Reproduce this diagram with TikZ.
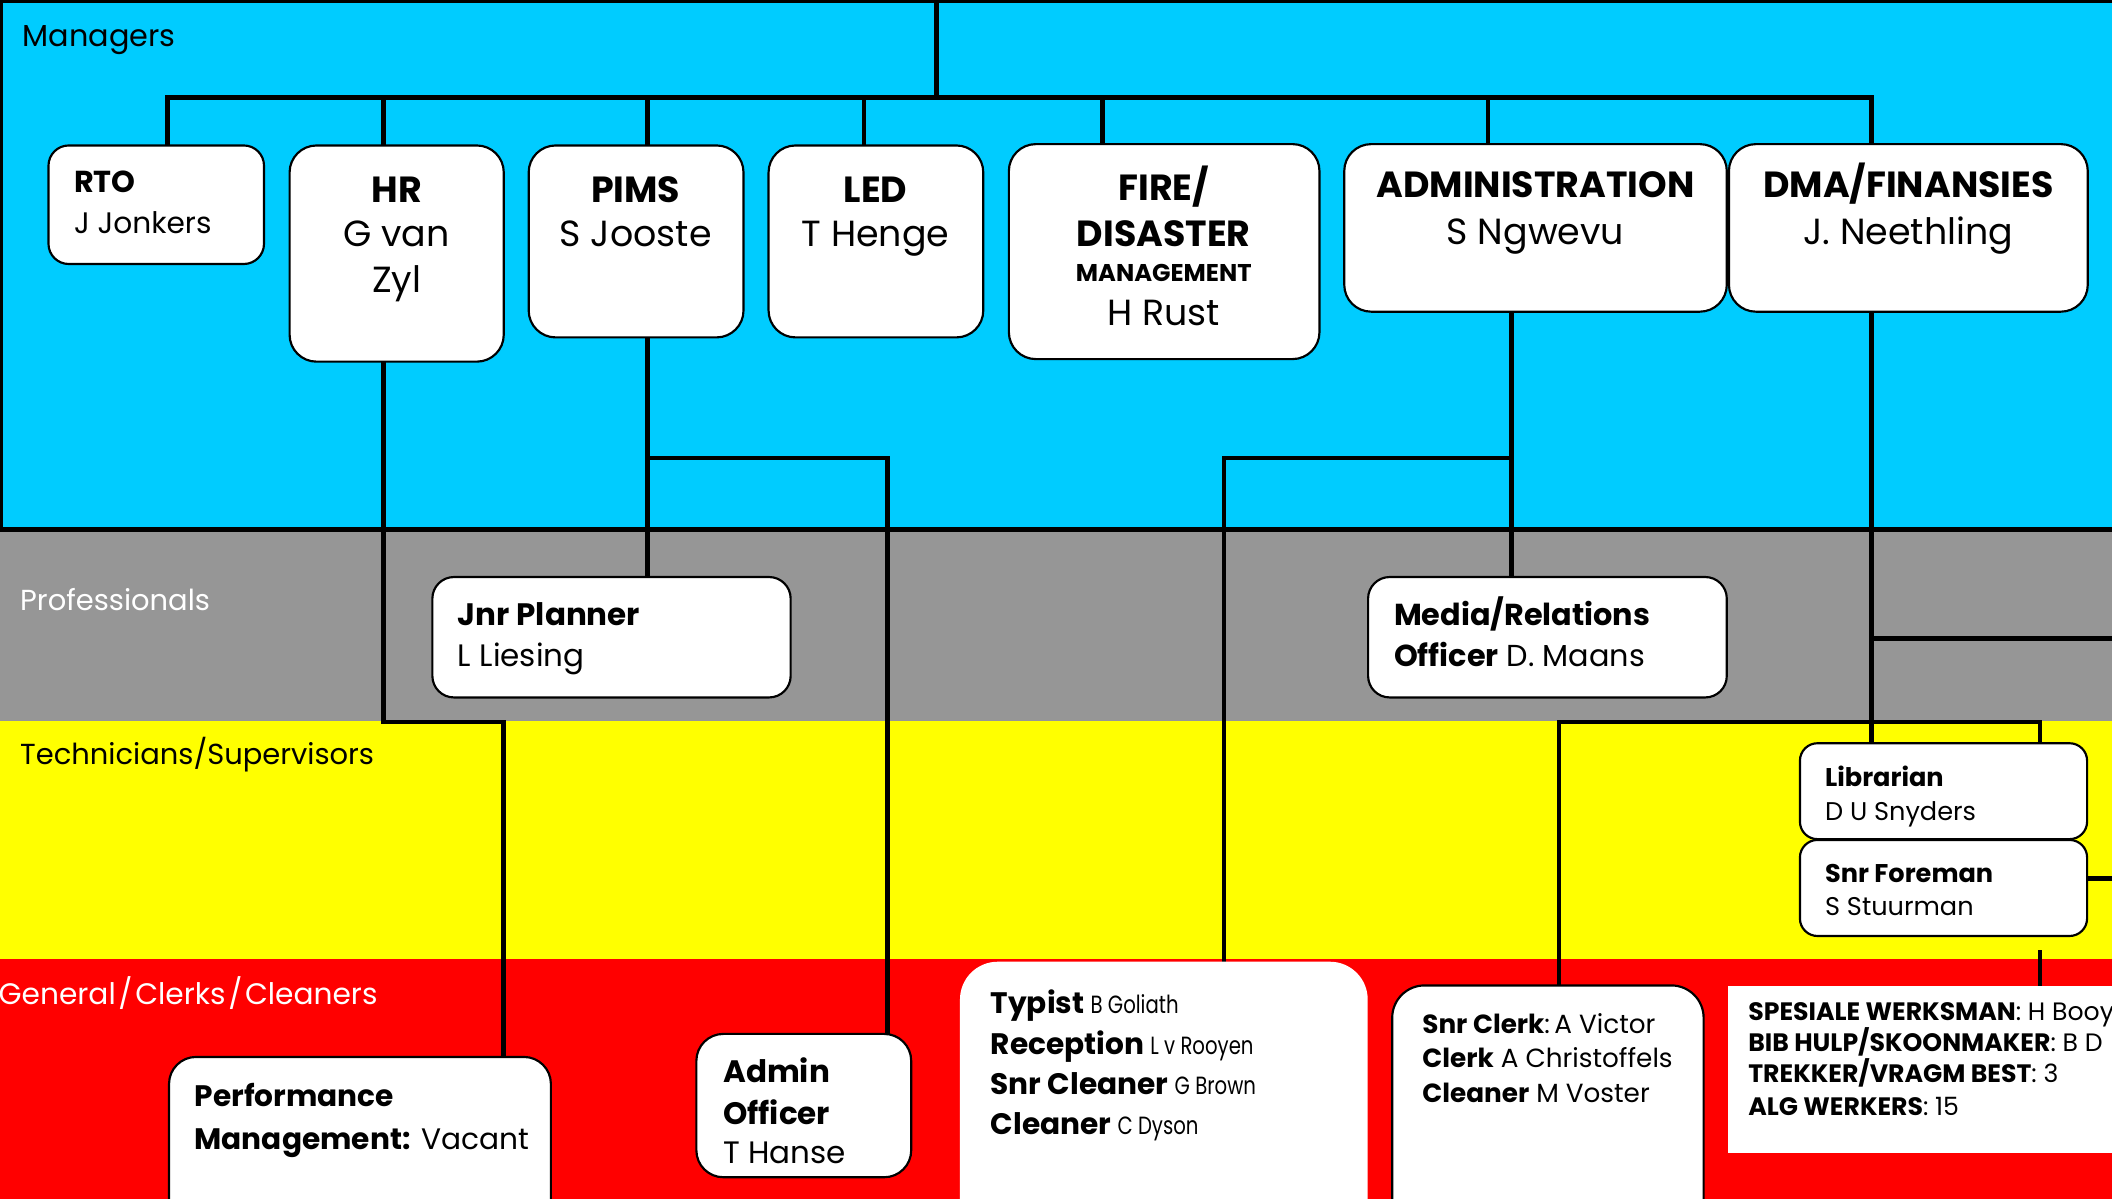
\documentclass[tikz,border=0pt]{standalone}
\usepackage{fontspec}
\setmainfont{Poppins}
\definecolor{mgrblue}{RGB}{0,204,255}
\definecolor{progray}{RGB}{150,150,150}
\definecolor{techyellow}{RGB}{255,255,0}
\definecolor{genred}{RGB}{255,0,0}
\newcommand{\fs}[1]{\fontsize{#1}{#1}\selectfont}
\newcommand{\narrowname}[1]{\scalebox{0.79}[1]{\normalfont\fs{18.5}#1}}
\newcommand{\sep}{\kern2pt/\kern2pt}
\pgfdeclarelayer{bands}
\pgfdeclarelayer{wires}
\pgfsetlayers{bands,wires,main}
\begin{document}
\begin{tikzpicture}[x=1pt,y=-1pt,
  wire/.style={line width=3.6pt},
  orgbox/.style={draw=black,line width=1.6pt,fill=white,rounded corners=20pt,
    rectangle,inner sep=0pt,outer sep=0pt,anchor=north west},
  plainbox/.style={fill=white,rectangle,inner sep=0pt,outer sep=0pt,anchor=north west},
  lt/.style={inner sep=0pt,outer sep=0pt,anchor=base west},
  ct/.style={inner sep=0pt,outer sep=0pt,anchor=base},
  bandlbl/.style={lt,font=\fs{21.5}},
  headtxt/.style={font=\fs{27}\bfseries},
  persontxt/.style={font=\fs{27}},
]
\useasboundingbox (0,0) rectangle (1568,890);
\clip (0,0) rectangle (1568,890);

% ---- staff level bands ----
\begin{pgfonlayer}{bands}
  \fill[mgrblue] (0,0) rectangle (1600,393);
  \fill[progray] (0,393) rectangle (1600,535);
  \fill[techyellow] (0,535) rectangle (1600,712.3);
  \fill[genred] (0,712.3) rectangle (1600,900);
  \draw[line width=4pt] (0,0) rectangle (1600,393);
\end{pgfonlayer}

\node[bandlbl,font=\fs{22.5}] (lmgr) at (17,34.6) {Managers};
\node[bandlbl,text=white] (lpro) at (15,453.6) {Professionals};
\node[bandlbl] (ltech) at (15,567.5) {Technicians/Supervisors};
\node[bandlbl,font=\fs{22},text=white] (lgen) at (-1,746) {General\sep Clerks\sep Cleaners};

% ---- managers ----
\node[orgbox,rounded corners=15pt,minimum width=160pt,minimum height=88pt] (rto) at (36,108) {};
\node[lt,font=\fs{22.5}\bfseries] (rto1) at (55,143) {RTO};
\node[lt,font=\fs{22}] (rto2) at (55,173) {J Jonkers};

\node[orgbox,minimum width=159pt,minimum height=160.5pt] (hr) at (215,108) {};
\node[ct,headtxt] (hr1) at (294.5,150) {HR};
\node[ct,persontxt] (hr2) at (294.5,183) {G van};
\node[ct,persontxt] (hr3) at (294.5,217) {Zyl};

\node[orgbox,minimum width=159.5pt,minimum height=142.5pt] (pims) at (392.5,108) {};
\node[ct,headtxt] (pims1) at (472,150) {PIMS};
\node[ct,persontxt] (pims2) at (472,183) {S Jooste};

\node[orgbox,minimum width=159.4pt,minimum height=142.5pt] (led) at (570.6,108) {};
\node[ct,headtxt] (led1) at (650,150) {LED};
\node[ct,persontxt] (led2) at (650,183) {T Henge};

\node[orgbox,minimum width=230.6pt,minimum height=159.6pt] (fire) at (749,107) {};
\node[ct,headtxt] (fire1) at (864,149) {FIRE/};
\node[ct,headtxt] (fire2) at (864,183) {DISASTER};
\node[ct,font=\fs{18}\bfseries] (fire3) at (864,209) {MANAGEMENT};
\node[ct,persontxt] (fire4) at (864,241.5) {H Rust};

\node[orgbox,minimum width=284pt,minimum height=124.4pt] (admin) at (998,107) {};
\node[ct,headtxt] (admin1) at (1140,147) {ADMINISTRATION};
\node[ct,persontxt] (admin2) at (1140,181.5) {S Ngwevu};

\node[orgbox,minimum width=266.4pt,minimum height=124.4pt] (dma) at (1283.6,107) {};
\node[ct,headtxt] (dma1) at (1416.8,147) {DMA/FINANSIES};
\node[ct,persontxt] (dma2) at (1416.8,181.5) {J. Neethling};

% ---- professionals ----
\node[orgbox,rounded corners=16pt,minimum width=266pt,minimum height=89.4pt] (jnr) at (321,428.4) {};
\node[lt,font=\fs{23}\bfseries] (jnr1) at (340,464.5) {Jnr Planner};
\node[lt,font=\fs{23}] (jnr2) at (340,495) {L Liesing};

\node[orgbox,rounded corners=16pt,minimum width=266.3pt,minimum height=89.4pt] (media) at (1015.7,428.4) {};
\node[lt,font=\fs{22.5}\bfseries] (media1) at (1035,464.5) {Media/Relations};
\node[lt,font=\fs{22.5}] (media2) at (1035,495) {\textbf{Officer} D. Maans};

% ---- technicians / supervisors ----
\node[orgbox,rounded corners=13pt,minimum width=213.2pt,minimum height=71.2pt] (lib) at (1336.3,551.8) {};
\node[lt,font=\fs{19}\bfseries] (lib1) at (1355,584) {Librarian};
\node[lt,font=\fs{19}] (lib2) at (1355,609.5) {D U Snyders};

\node[orgbox,rounded corners=13pt,minimum width=213.2pt,minimum height=71.3pt] (fore) at (1336.3,623.6) {};
\node[lt,font=\fs{19}\bfseries] (fore1) at (1355,655) {Snr Foreman};
\node[lt,font=\fs{19}] (fore2) at (1355,680) {S Stuurman};

% ---- general / clerks / cleaners ----
\node[orgbox,minimum width=283.5pt,minimum height=140pt] (perf) at (125.5,784.7) {};
\node[lt,font=\fs{22}\bfseries] (perf1) at (144.5,821.5) {Performance};
\node[lt,font=\fs{22}] (perf2) at (144.5,853.5) {\textbf{Management:} Vacant};

\node[orgbox,minimum width=159.5pt,minimum height=106.4pt] (aoff) at (517,767.6) {};
\node[lt,font=\fs{23}\bfseries] (aoff1) at (537,804) {Admin};
\node[lt,font=\fs{23}\bfseries] (aoff2) at (537,834.5) {Officer};
\node[lt,font=\fs{23}] (aoff3) at (537,863.5) {T Hanse};

\node[plainbox,rounded corners=28pt,minimum width=302.7pt,minimum height=220pt] (typ) at (712.7,714) {};
\node[lt,font=\fs{22}\bfseries] (typ1) at (735.5,752.3) {Typist \narrowname{B Goliath}};
\node[lt,font=\fs{22}\bfseries] (typ2) at (735.5,782.7) {Reception \narrowname{L v Rooyen}};
\node[lt,font=\fs{22}\bfseries] (typ3) at (735.5,812.4) {Snr Cleaner \narrowname{G Brown}};
\node[lt,font=\fs{22}\bfseries] (typ4) at (735.5,842.6) {Cleaner \narrowname{C Dyson}};

\node[orgbox,rounded corners=24pt,minimum width=231.2pt,minimum height=200pt] (sclerk) at (1033.6,731.6) {};
\node[lt,font=\fs{19.5}] (sclerk1) at (1056,767) {\textbf{Snr Clerk}:\,A Victor};
\node[lt,font=\fs{19.5}] (sclerk2) at (1056,792.5) {\textbf{Clerk} A Christoffels};
\node[lt,font=\fs{19.5}] (sclerk3) at (1056,818.5) {\textbf{Cleaner} M Voster};

\node[plainbox,minimum width=320pt,minimum height=124pt] (spes) at (1283,732) {};
\node[lt,font=\fs{18.7}] (spes1) at (1298,757.3) {\textbf{SPESIALE WERKSMAN}: H Booy};
\node[lt,font=\fs{18.7}] (spes2) at (1298,780.5) {\textbf{BIB HULP/SKOONMAKER}: B D};
\node[lt,font=\fs{18.7}] (spes3) at (1298,804) {\textbf{TREKKER/VRAGM BEST}: 3};
\node[lt,font=\fs{18.7}] (spes4) at (1298,828) {\textbf{ALG WERKERS}: 15};

% ---- reporting lines ----
\coordinate (topin) at (695.4,-5);
\coordinate (busL) at (124.5,72.4);
\coordinate (busR) at (1389.5,72.4);
\coordinate (dHR) at (284.6,72.4);
\coordinate (dPIMS) at (480.8,72.4);
\coordinate (dLED) at (641.4,72.4);
\coordinate (dFIRE) at (818.7,72.4);
\coordinate (dADM) at (1104.7,72.4);
\coordinate (hrA) at (284.6,536);
\coordinate (hrB) at (374,536);
\coordinate (pmA) at (480.8,340);
\coordinate (pmB) at (659,340);
\coordinate (adA) at (1122.3,340);
\coordinate (adB) at (908.7,340);
\coordinate (dmA) at (1389.5,474);
\coordinate (dmE) at (1580,474);
\coordinate (ybL) at (1157.4,536);
\coordinate (ybR) at (1514.5,536);
\coordinate (fmE) at (1580,652);
\coordinate (spA) at (1514.5,705.5);

\begin{pgfonlayer}{wires}
  \draw[wire] (topin) -- (topin |- busL);
  \draw[wire] (busL |- rto.north) -- (busL) -- (busR) -- (busR |- dma.north);
  \draw[wire] (dHR) -- (dHR |- hr.north);
  \draw[wire] (dPIMS) -- (dPIMS |- pims.north);
  \draw[wire] (dLED) -- (dLED |- led.north);
  \draw[wire] (dFIRE) -- (dFIRE |- fire.north);
  \draw[wire] (dADM) -- (dADM |- admin.north);
  \draw[wire] (hrA |- hr.south) -- (hrA) -- (hrB) -- (hrB |- perf.north);
  \draw[wire] (pmA |- pims.south) -- (pmA |- jnr.north);
  \draw[wire] (pmA) -- (pmB) -- (pmB |- aoff.north);
  \draw[wire] (adA |- admin.south) -- (adA |- media.north);
  \draw[wire] (adA) -- (adB) -- (adB |- typ.north);
  \draw[wire] (dmA |- dma.south) -- (dmA |- lib.north);
  \draw[wire] (dmA) -- (dmE);
  \draw[wire] (ybL |- sclerk.north) -- (ybL) -- (ybR) -- (ybR |- lib.north);
  \draw[wire] (fore.east |- fmE) -- (fmE);
  \draw[wire] (spA) -- (spA |- spes.north);
\end{pgfonlayer}
\end{tikzpicture}
\end{document}
